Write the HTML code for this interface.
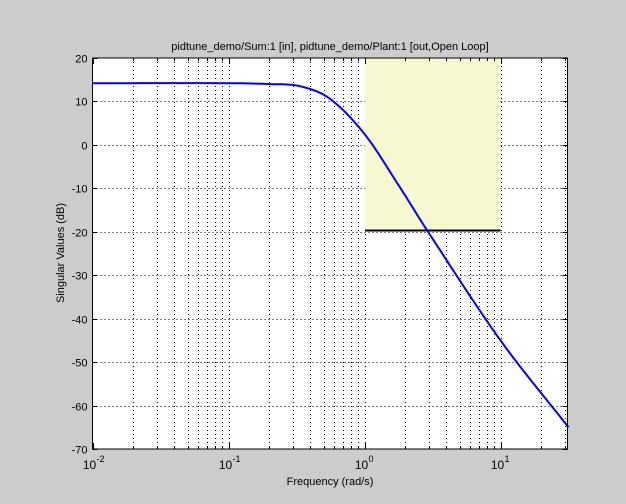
<!DOCTYPE html>
<html><head><style>
html,body{margin:0;padding:0;background:#cccccc;}
svg{display:block;font-family:"Liberation Sans",Arial,sans-serif;}
</style></head><body>
<svg id="s" width="626" height="504" xmlns="http://www.w3.org/2000/svg">
<rect x="0" y="0" width="626" height="504" fill="#cccccc"/>
<rect x="92.5" y="58" width="475" height="391" fill="#ffffff"/>
<g id="grid" stroke="#000" stroke-width="1" stroke-dasharray="1,3"></g>
<rect x="365" y="58" width="135.5" height="172" fill="#f8f8d0"/>
<g id="ticks" stroke="#000" stroke-width="1"></g>
<line x1="365" y1="230.5" x2="500.5" y2="230.5" stroke="#000" stroke-width="2"/>
<polyline id="curve" fill="none" stroke="#0000ff" stroke-width="2"/>
<rect x="92.5" y="58" width="475" height="391" fill="none" stroke="#000" stroke-width="1"/>
<g id="lab" font-size="11" fill="#000"></g>
<text x="330" y="50" font-size="11" text-anchor="middle">pidtune_demo/Sum:1 [in], pidtune_demo/Plant:1 [out,Open Loop]</text>
<text x="330" y="485" font-size="11" text-anchor="middle">Frequency (rad/s)</text>
<text transform="translate(64,253) rotate(-90)" font-size="11" text-anchor="middle">Singular Values (dB)</text>
</svg>
<script>
var L=92.5,R=567.5,T=58,B=449,D=136;
function X(lw){return L+(lw+2)*D;}
function Y(db){return T+(20-db)*(B-T)/90;}
var ns="http://www.w3.org/2000/svg";
function el(p,t,a){var e=document.createElementNS(ns,t);for(var k in a)e.setAttribute(k,a[k]);p.appendChild(e);return e;}
var g=document.getElementById('grid'),tk=document.getElementById('ticks'),lb=document.getElementById('lab');
for(var d=-2;d<=1;d++){for(var m=1;m<=9;m++){var lw=d+Math.log10(m);if(lw>1.5)break;var x=Math.round(X(lw))+0.5;
 if(!(d==-2&&m==1))el(g,'line',{x1:x,y1:T,x2:x,y2:B});
 var len=m==1?6:3;el(tk,'line',{x1:x,y1:B,x2:x,y2:B-len});el(tk,'line',{x1:x,y1:T,x2:x,y2:T+len});
 if(m==1){var t=el(lb,'text',{x:x-4,y:B+20,'text-anchor':'middle','font-size':'12'});t.textContent='10';
  var s=el(lb,'text',{x:x+3,y:B+13,'font-size':'9'});s.textContent=d;}}}
for(var v=-70;v<=20;v+=10){var y=Math.round(Y(v))+0.5;if(v>-70&&v<20)el(g,'line',{x1:L,y1:y,x2:R,y2:y});
 el(tk,'line',{x1:L,y1:y,x2:L+5,y2:y});el(tk,'line',{x1:R,y1:y,x2:R-5,y2:y});
 var t=el(lb,'text',{x:L-5,y:y+4,'text-anchor':'end'});t.textContent=v;}
var P=[[-2.5,14.2],[-2,14.2],[-1,14.2],[-0.7,14.0],[-0.474,13.5],[-0.254,10.6],[0,2.5],[0.255,-9.5],[0.467,-20],[1,-45],[1.5,-65],[2,-85]];
function interp(x){for(var i=1;i<P.length-2;i++){if(x<=P[i+1][0]){var p0=P[i-1],p1=P[i],p2=P[i+1],p3=P[i+2];
 var t=(x-p1[0])/(p2[0]-p1[0]);var h=p2[0]-p1[0];
 var m1=(p2[1]-p0[1])/(p2[0]-p0[0])*h,m2=(p3[1]-p1[1])/(p3[0]-p1[0])*h;
 var t2=t*t,t3=t2*t;return (2*t3-3*t2+1)*p1[1]+(t3-2*t2+t)*m1+(-2*t3+3*t2)*p2[1]+(t3-t2)*m2;}}return P[P.length-2][1];}
var pts=[];for(var lw=-2;lw<=1.5001;lw+=0.01){pts.push(X(lw).toFixed(1)+','+Y(interp(lw)).toFixed(1));}
document.getElementById('curve').setAttribute('points',pts.join(' '));
</script>
</body></html>
